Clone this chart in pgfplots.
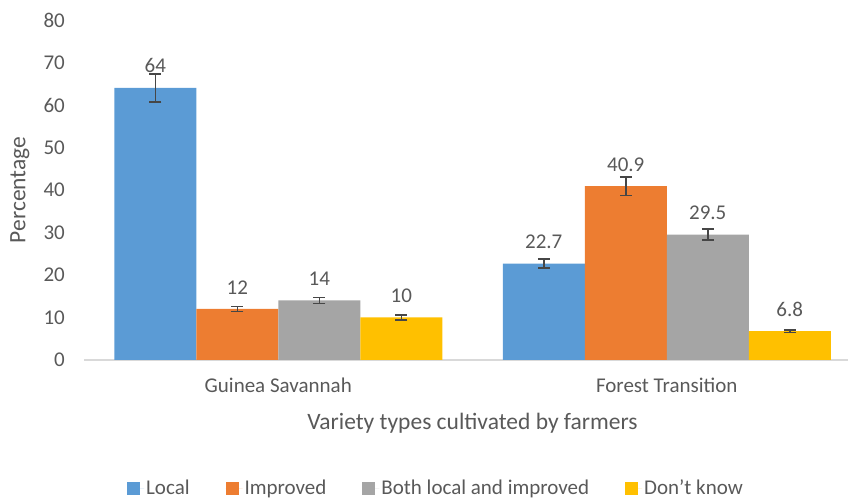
\documentclass[border=0pt]{standalone}
\usepackage{pgfplots}
\pgfplotsset{compat=1.18}
\usepackage{fontspec}
\setmainfont{Carlito}
\definecolor{cLocal}{RGB}{91,155,213}
\definecolor{cImp}{RGB}{237,125,49}
\definecolor{cBoth}{RGB}{165,165,165}
\definecolor{cDK}{RGB}{255,192,0}
\definecolor{txt}{RGB}{89,89,89}
\definecolor{axl}{RGB}{217,217,217}
\definecolor{errc}{RGB}{70,70,70}
\begin{document}
\begin{tikzpicture}
\useasboundingbox (0,0) rectangle (848bp,499bp);
\begin{axis}[
  at={(84bp,139bp)}, anchor=south west,
  scale only axis, width=777bp, height=340bp,
  ymin=0, ymax=80, ytick={0,10,...,80},
  xmin=-0.5, xmax=1.5, xtick={0,1},
  xticklabels={Guinea Savannah, Forest Transition},
  /pgf/number format/assume math mode=true,
  ybar=0pt, bar width=82bp,
  axis lines*=left,
  y axis line style={draw=none},
  x axis line style={draw=axl, line width=1.2bp},
  major tick length=0pt,
  tick label style={font=\fontsize{21bp}{25bp}\selectfont, text=txt},
  yticklabel style={anchor=east, inner sep=0pt, xshift=-19bp},
  xticklabel style={anchor=base, inner sep=0pt, yshift=-32bp},
  xlabel={Variety types cultivated by farmers},
  ylabel={Percentage},
  label style={font=\fontsize{23.5bp}{28bp}\selectfont, text=txt},
  xlabel style={at={(axis description cs:0.5,-0.185)}, anchor=center},
  ylabel style={at={(axis description cs:-0.0824,0.5)}, anchor=center, rotate=0},
  nodes near coords,
  every node near coord/.append style={font=\fontsize{21bp}{25bp}\selectfont, text=txt, anchor=base, yshift=15bp, inner sep=0pt},
  legend style={draw=none, fill=none, at={(axis description cs:0.453,-0.3765)}, anchor=center,
    font=\fontsize{21bp}{25bp}\selectfont, text=txt,
    /tikz/every even column/.append style={column sep=34bp}},
  legend columns=-1,
  legend image code/.code={\fill[#1] (0bp,-6.5bp) rectangle (13bp,6.5bp); \path (0bp,0bp) -- (17bp,0bp);},
  error bars/y dir=both, error bars/y explicit,
  error bars/error bar style={color=errc, line width=1.5bp},
  error bars/error mark options={rotate=90, mark size=6bp, line width=1.5bp, color=errc},
]
\addplot[fill=cLocal, draw=none] coordinates {(0,64) +- (0,3.3) (1,22.7) +- (0,1.1)};
\addplot[fill=cImp, draw=none] coordinates {(0,12) +- (0,0.6) (1,40.9) +- (0,2.2)};
\addplot[fill=cBoth, draw=none] coordinates {(0,14) +- (0,0.7) (1,29.5) +- (0,1.3)};
\addplot[fill=cDK, draw=none] coordinates {(0,10) +- (0,0.6) (1,6.8) +- (0,0.3)};
\legend{Local, Improved, Both local and improved, Don\char"27 t know}
\end{axis}
\end{tikzpicture}
\end{document}
